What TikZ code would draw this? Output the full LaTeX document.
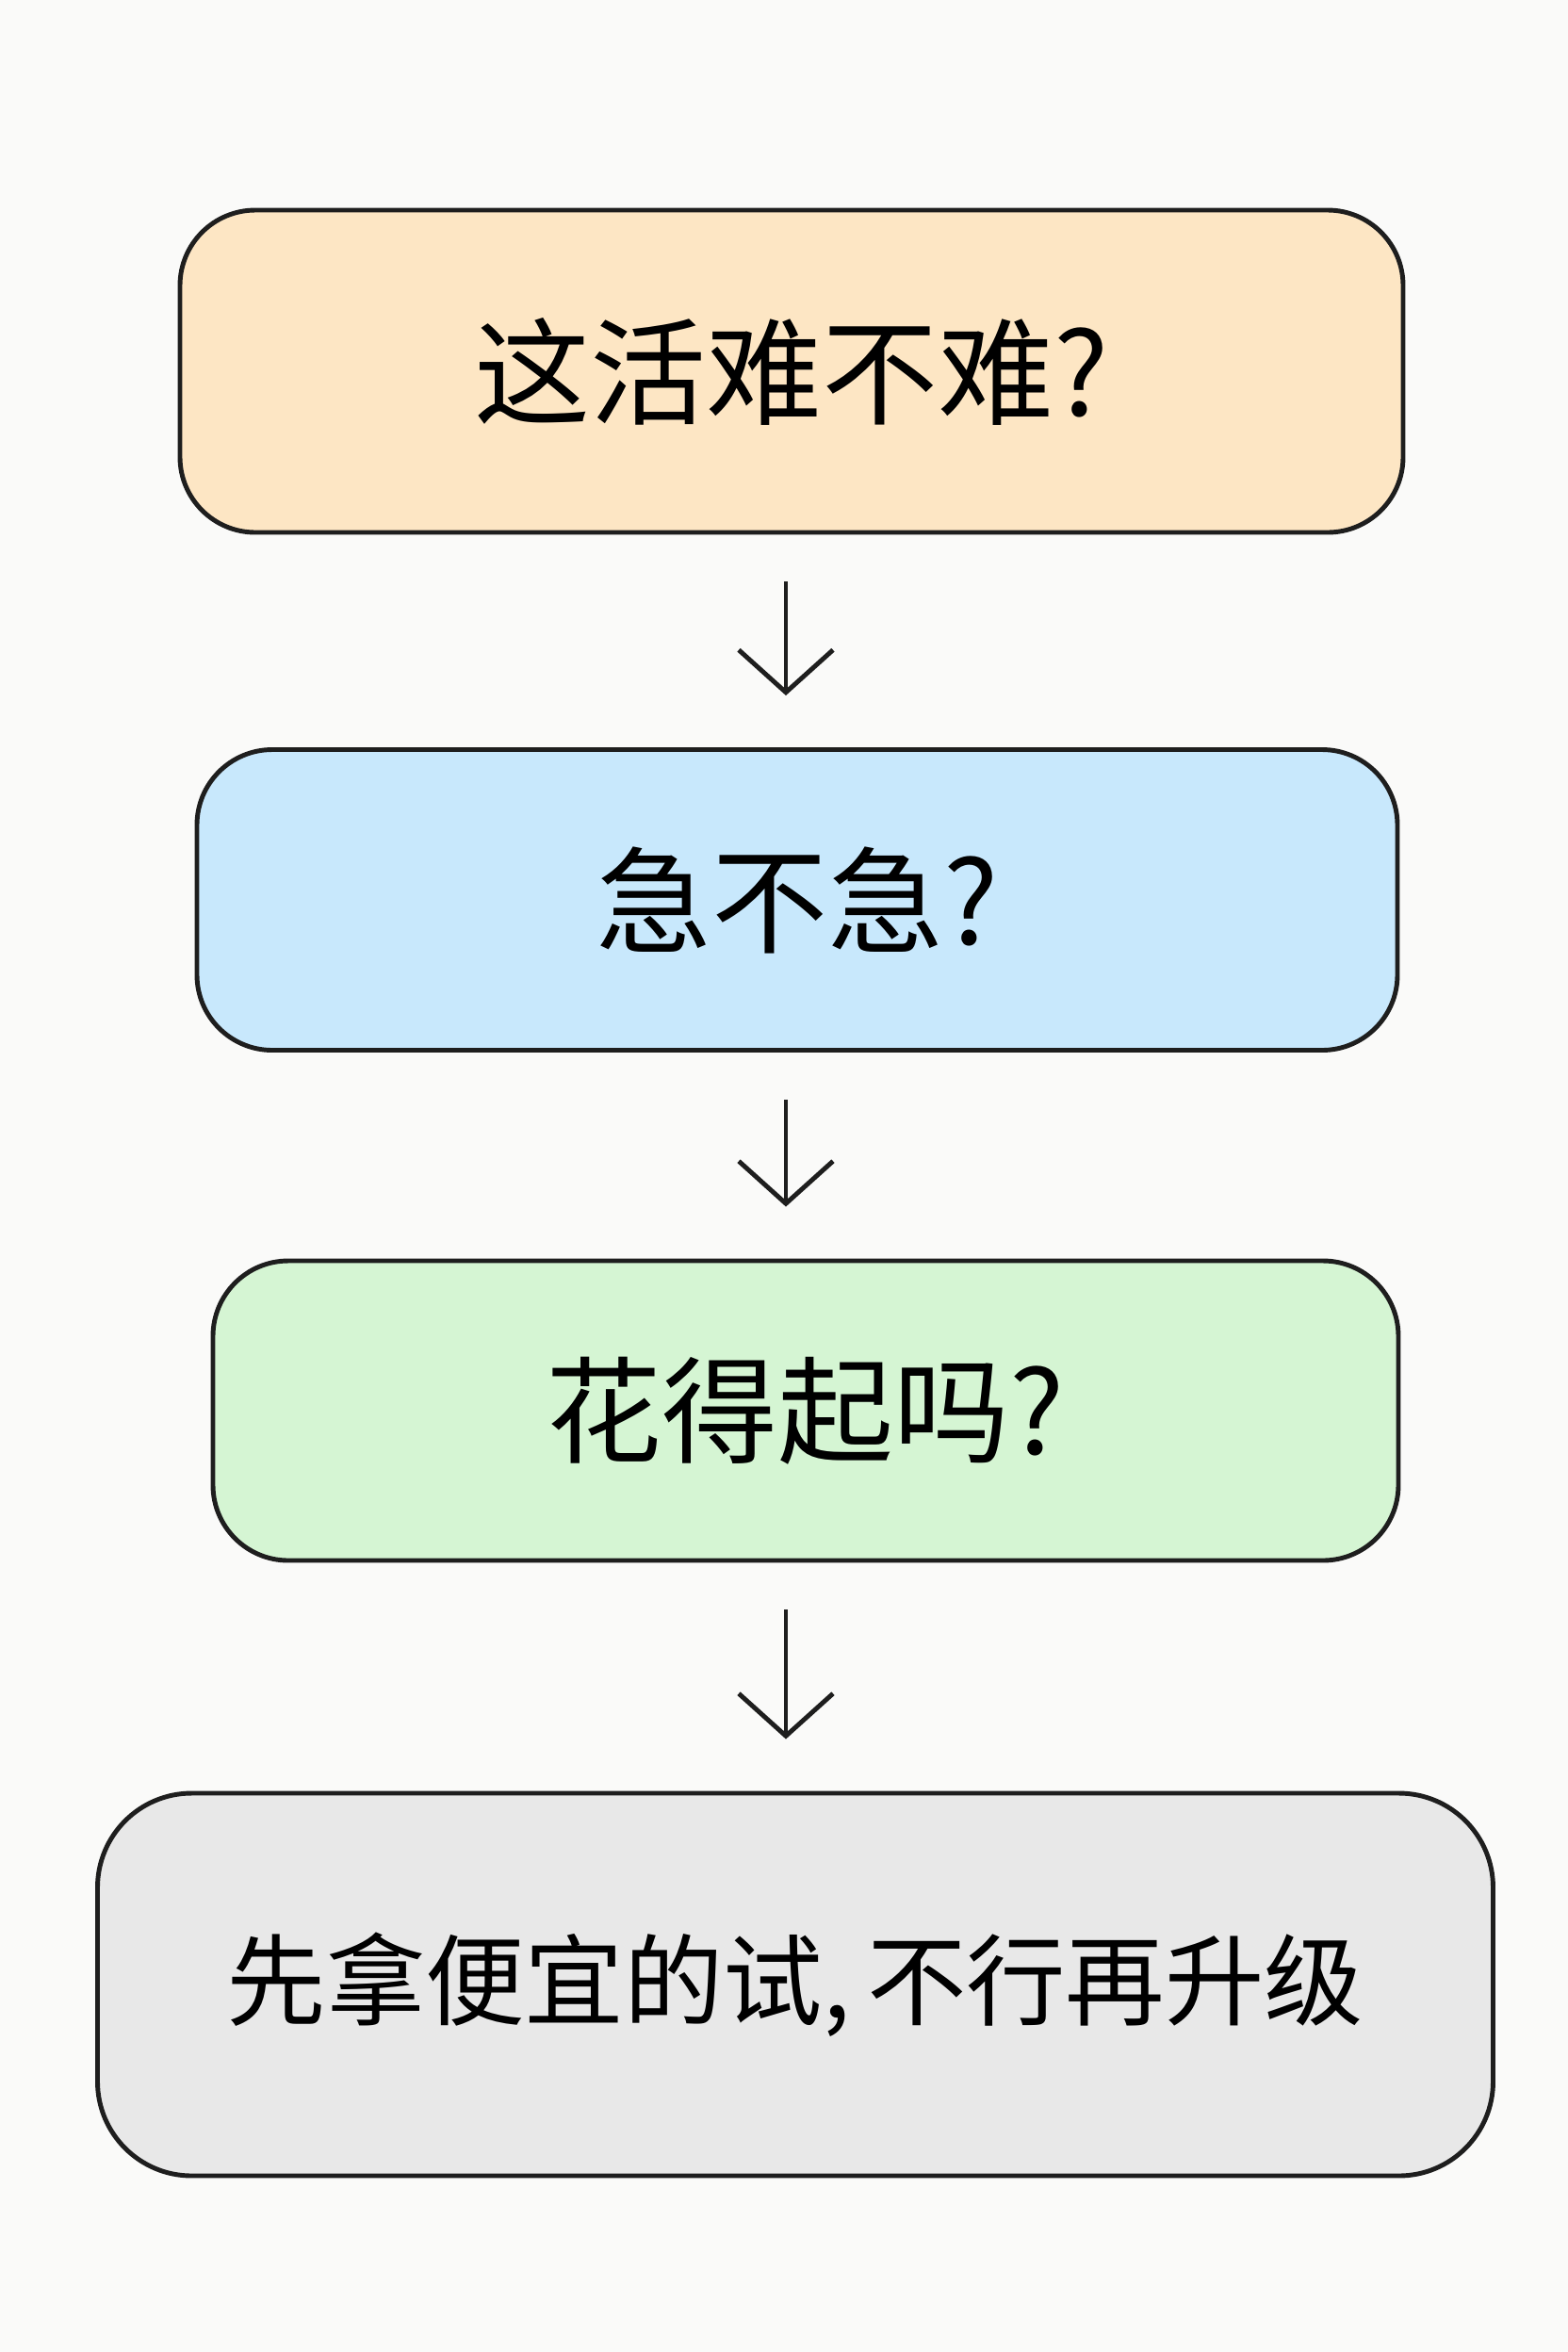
\documentclass[tikz,border=0pt]{standalone}
\usepackage{fontspec}
\usetikzlibrary{arrows.meta,positioning}
\newfontfamily\cjk{Noto Sans CJK SC}
\definecolor{ink}{RGB}{30,30,30}
\definecolor{paper}{RGB}{250,250,249}
\definecolor{peach}{RGB}{253,230,196}
\definecolor{sky}{RGB}{200,232,252}
\definecolor{mint}{RGB}{213,245,211}
\definecolor{fog}{RGB}{232,232,232}

\begin{document}
\begin{tikzpicture}[
      qbox/.style={rectangle, rounded corners=0.8cm, draw=ink, line width=1.4pt,
                   inner sep=0pt, font=\cjk\fontsize{35}{40}\selectfont},
      flow/.style={-{Straight Barb[length=4.5mm, width=10mm]}, ink, line width=1.4pt,
                   shorten <=0.5cm, shorten >=0.55cm}]
    % page
    \fill[paper] (0,0) rectangle (16.64,-24.96);
    \useasboundingbox (0,0) rectangle (16.64,-24.96);
    % the questions, top to bottom
    \node[qbox, fill=peach, minimum width=12.98cm, minimum height=3.42cm] (q1) at (8.40,-3.94) {这活难不难?};
    \node[qbox, fill=sky, minimum width=12.74cm, minimum height=3.19cm] (q2) at (8.46,-9.55) {急不急?};
    \node[qbox, fill=mint, minimum width=12.58cm, minimum height=3.18cm] (q3) at (8.55,-14.97) {花得起吗?};
    \node[qbox, fill=fog, rounded corners=1cm, minimum width=14.81cm, minimum height=4.06cm,
          font=\cjk\fontsize{30}{35}\selectfont] (q4) at (8.44,-21.06) {先拿便宜的试,\,不行再升级};
    % arrows between them
    \coordinate (spine) at (8.34,0);
    \foreach \u/\v in {1/2, 2/3, 3/4}{
      \draw[flow] (q\u.south -| spine) -- (q\v.north -| spine);
    }
  \end{tikzpicture}
\end{document}
